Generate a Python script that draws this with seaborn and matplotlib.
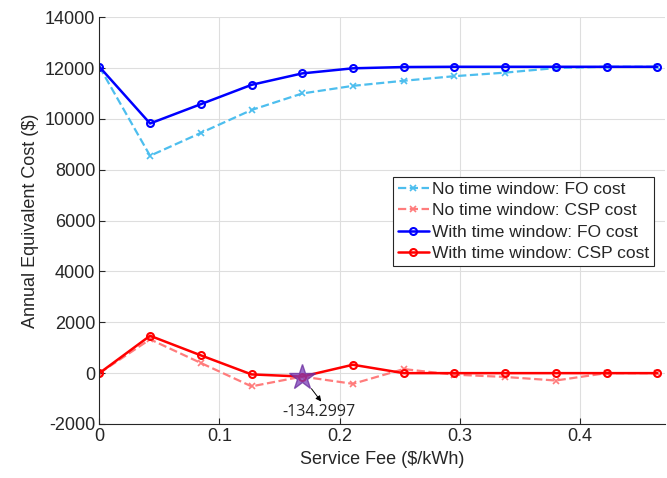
import numpy as np
import pandas as pd
import seaborn as sns
import matplotlib.pyplot as plt

# service fee grid ($/kWh)
fee = [0, 0.0422, 0.0845, 0.1267, 0.1689, 0.2111, 0.2534, 0.2956, 0.3378, 0.3800, 0.4223, 0.4645]

# annual equivalent cost ($)
fo_no_tw = [12050, 8550, 9450, 10350, 11000, 11300, 11500, 11680, 11820, 12000, 12050, 12050]
csp_no_tw = [0, 1330, 400, -520, -134.2997, -420, 160, -60, -150, -290, 0, 0]
fo_tw = [12050, 9820, 10580, 11340, 11790, 11990, 12040, 12050, 12050, 12050, 12050, 12050]
csp_tw = [0, 1470, 700, -50, -134.2997, 330, 0, 0, 0, 0, 0, 0]

star_idx = 4

sns.set_style("whitegrid")
plt.rcParams["font.family"] = ["Liberation Sans", "DejaVu Sans"]
plt.rcParams["axes.unicode_minus"] = False

fig = plt.figure(figsize=(6.67, 4.78), dpi=100)
ax = fig.add_axes([0.149, 0.113, 0.848, 0.851])

sns.lineplot(x=fee, y=fo_no_tw, ax=ax, color="#4DBEEE", linestyle="--", linewidth=1.6,
             marker="x", markersize=5, markeredgecolor="#4DBEEE", markeredgewidth=1.2,
             label="No time window: FO cost")
sns.lineplot(x=fee, y=csp_no_tw, ax=ax, color="#FF7C7C", linestyle="--", linewidth=1.6,
             marker="x", markersize=5, markeredgecolor="#FF7C7C", markeredgewidth=1.2,
             label="No time window: CSP cost")
sns.lineplot(x=fee, y=fo_tw, ax=ax, color="#0000FF", linewidth=1.8,
             marker="o", markersize=5, markerfacecolor="none", markeredgecolor="#0000FF",
             markeredgewidth=1.5, label="With time window: FO cost")
sns.lineplot(x=fee, y=csp_tw, ax=ax, color="#FF0000", linewidth=1.8,
             marker="o", markersize=5, markerfacecolor="none", markeredgecolor="#FF0000",
             markeredgewidth=1.5, label="With time window: CSP cost")

# highlight point
sx, sy = fee[star_idx], csp_tw[star_idx]
ax.plot(sx, sy, marker="*", markersize=19, markerfacecolor="#7A3DB8", alpha=0.75,
        markeredgecolor="#6A2C9E", markeredgewidth=1.0, zorder=5)
ax.annotate("", xy=(sx, sy), xytext=(19, -25), textcoords="offset pixels",
            arrowprops=dict(arrowstyle="<|-", color="black", lw=0.7, shrinkA=0, shrinkB=11,
                            mutation_scale=8))
ax.annotate(f"{sy:.4f}", xy=(sx, sy), xytext=(17, -35), textcoords="offset pixels",
            ha="center", va="center", fontsize=11.5, family=["Open Sans", "DejaVu Sans"])

ax.set_xlim(0, 0.471)
ax.set_ylim(-2000, 14000)
ax.set_xticks([0, 0.1, 0.2, 0.3, 0.4])
ax.set_xticklabels(["0", "0.1", "0.2", "0.3", "0.4"])
ax.set_yticks(np.arange(-2000, 14001, 2000))
ax.set_xlabel("Service Fee ($/kWh)", fontsize=13, color="#262626")
ax.set_ylabel("Annual Equivalent Cost ($)", fontsize=13, color="#262626")
ax.tick_params(axis="both", labelsize=13, colors="#262626", direction="in", length=4,
               width=0.8, left=True, bottom=True, pad=3)

ax.grid(True, color="#DEDEDE", linewidth=0.8)
for side in ["top", "right"]:
    ax.spines[side].set_visible(False)
for side in ["left", "bottom"]:
    ax.spines[side].set_color("#262626")
    ax.spines[side].set_linewidth(0.8)

leg = ax.legend(loc="upper right", bbox_to_anchor=(654 / 667, 1 - 176.7 / 478),
                bbox_transform=fig.transFigure, borderaxespad=0, fontsize=12.5,
                handlelength=1.8, handletextpad=0.15, labelspacing=0.36, borderpad=0.3,
                frameon=True, fancybox=False, framealpha=1)
leg.get_frame().set_edgecolor("#262626")
leg.get_frame().set_linewidth(0.8)

fig.savefig("out.png", dpi=100)
